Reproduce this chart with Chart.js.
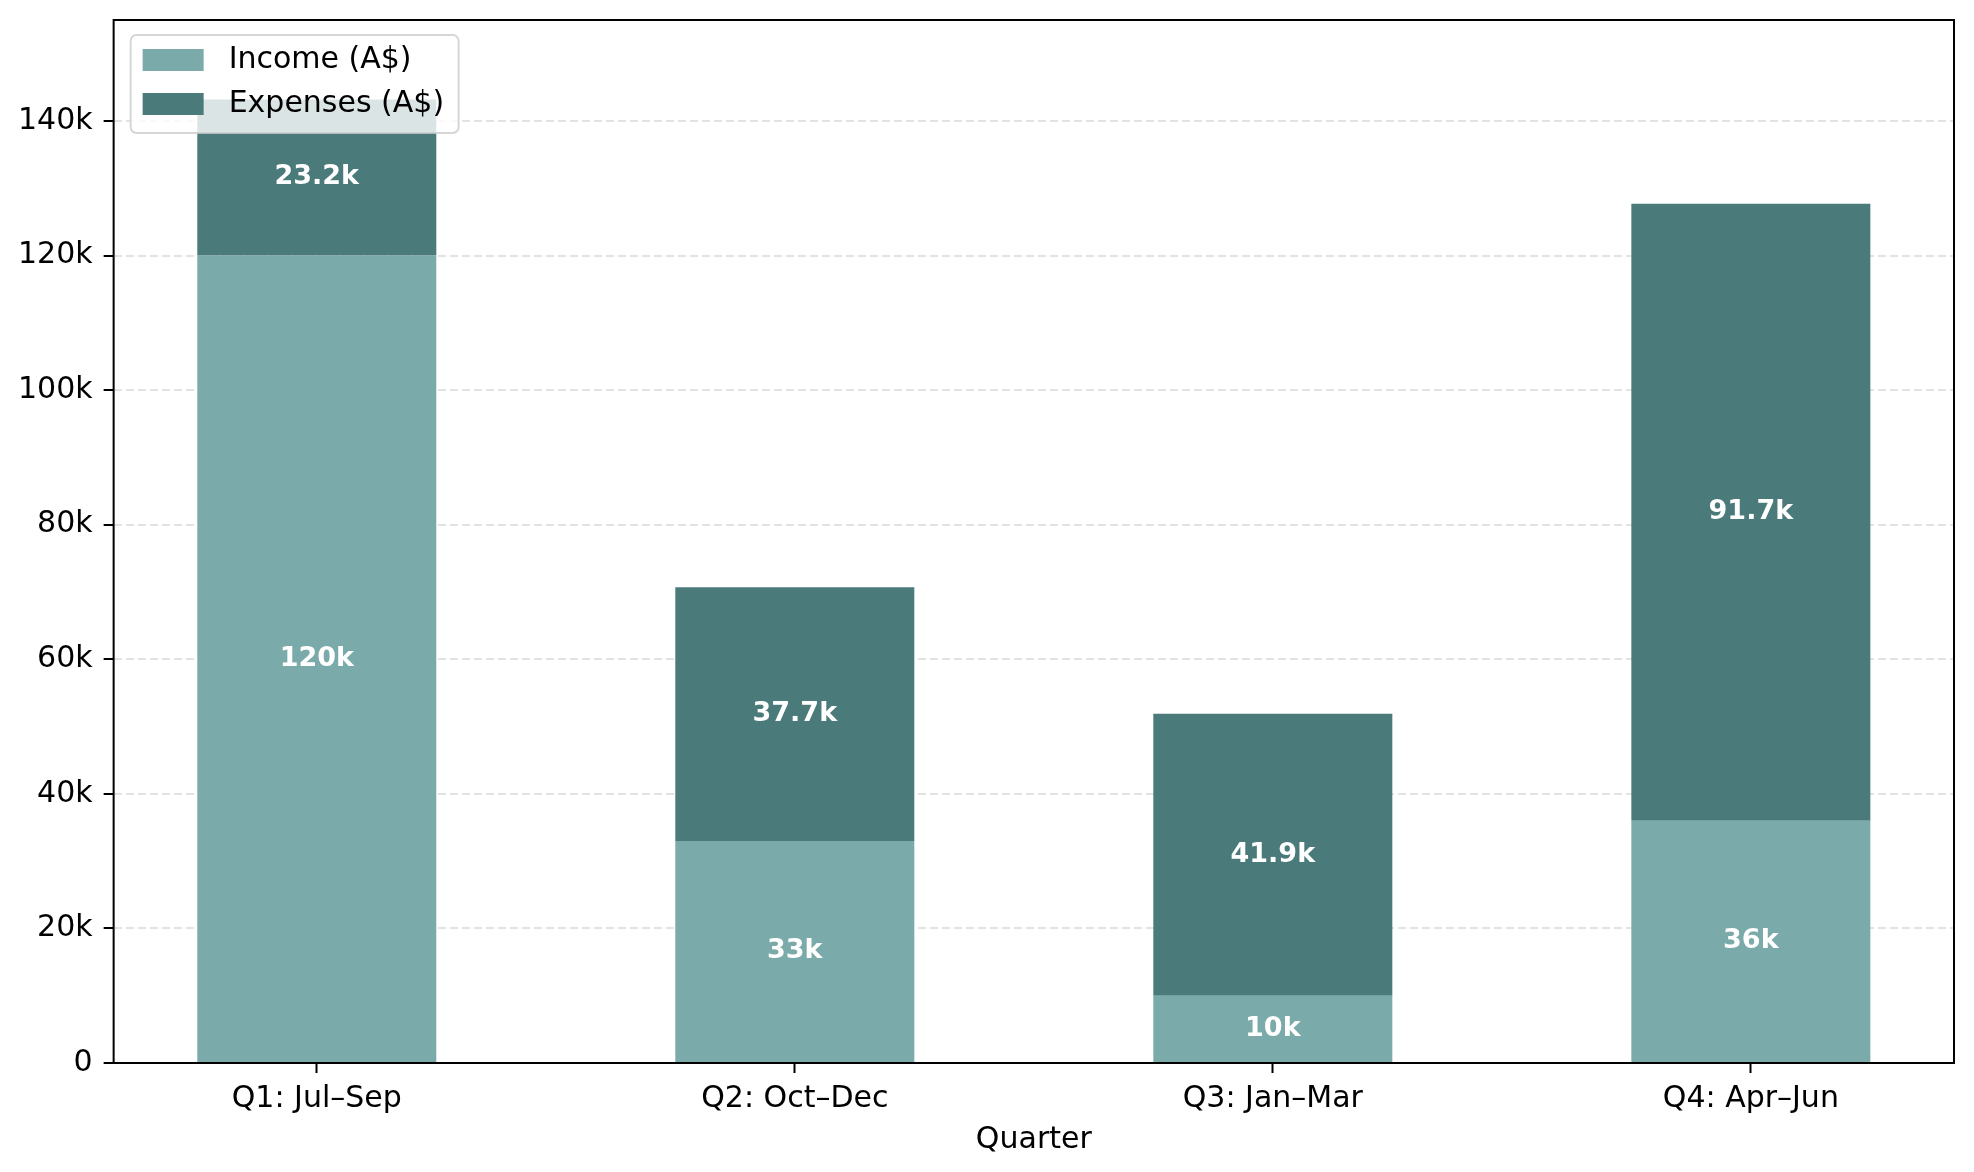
<!DOCTYPE html>
<html lang="en">
<head>
  <meta charset="UTF-8">
  <title>Income vs Expenses by Quarter</title>
  <script src="https://cdn.jsdelivr.net/npm/chart.js@4.4.1/dist/chart.umd.min.js"></script>
  <style>
    html, body { margin: 0; padding: 0; background: #fff; }
    #wrap { width: 1974px; height: 1172px; }
  </style>
</head>
<body>
  <div id="wrap"><canvas id="myChart"></canvas></div>
  <script>
    const quarters = ['Q1: Jul–Sep', 'Q2: Oct–Dec', 'Q3: Jan–Mar', 'Q4: Apr–Jun'];
    const income = [120000, 33000, 10000, 36000];
    const expenses = [23200, 37700, 41900, 91700];
    const yTicks = [0, 20000, 40000, 60000, 80000, 100000, 120000, 140000];
    const seriesNames = ['Income (A$)', 'Expenses (A$)'];
    const seriesColors = ['#7aaaa9', '#4a7a79'];

    const FONT = "'DejaVu Sans', sans-serif";

    function kLabel(v) {
      if (v === 0) return '0';
      return (Math.round(v / 100) / 10) + 'k';
    }

    // value labels in the middle of each stacked segment
    const segmentLabels = {
      id: 'segmentLabels',
      afterDatasetsDraw(chart) {
        const ctx = chart.ctx;
        ctx.save();
        ctx.fillStyle = '#ffffff';
        ctx.font = 'bold 27px ' + FONT;
        ctx.textAlign = 'center';
        ctx.textBaseline = 'middle';
        chart.data.datasets.forEach((ds, i) => {
          chart.getDatasetMeta(i).data.forEach((bar, j) => {
            ctx.fillText(kLabel(ds.data[j].y), bar.x, (bar.y + bar.base) / 2);
          });
        });
        ctx.restore();
      }
    };

    // matplotlib-style legend box inside the axes, drawn over the bars
    const boxLegend = {
      id: 'boxLegend',
      afterDatasetsDraw(chart) {
        const ctx = chart.ctx;
        const a = chart.chartArea;
        const x = a.left + 17, y = a.top + 15, w = 328, h = 98;
        ctx.save();
        ctx.beginPath();
        ctx.roundRect(x, y, w, h, 6);
        ctx.fillStyle = 'rgba(255,255,255,0.8)';
        ctx.fill();
        ctx.lineWidth = 2;
        ctx.strokeStyle = 'rgba(204,204,204,0.8)';
        ctx.stroke();
        ctx.font = '30px ' + FONT;
        ctx.textBaseline = 'middle';
        ctx.textAlign = 'left';
        seriesNames.forEach((name, i) => {
          const cy = y + 25 + i * 44;
          ctx.fillStyle = seriesColors[i];
          ctx.fillRect(x + 12, cy - 11, 61, 22);
          ctx.fillStyle = '#000';
          ctx.fillText(name, x + 98, cy);
        });
        ctx.restore();
      }
    };

    const frame = {
      id: 'frame',
      afterDraw(chart) {
        const a = chart.chartArea;
        const ctx = chart.ctx;
        ctx.save();
        ctx.lineWidth = 2;
        ctx.strokeStyle = '#000';
        ctx.strokeRect(a.left, a.top, a.right - a.left, a.bottom - a.top);
        ctx.restore();
      }
    };

    const toPoints = (arr) => arr.map((v, i) => ({ x: i, y: v }));

    const ctx = document.getElementById('myChart').getContext('2d');
    const myChart = new Chart(ctx, {
      type: 'bar',
      data: {
        datasets: [{
          label: seriesNames[0],
          data: toPoints(income),
          backgroundColor: seriesColors[0],
          barPercentage: 0.5,
          categoryPercentage: 1.0
        }, {
          label: seriesNames[1],
          data: toPoints(expenses),
          backgroundColor: seriesColors[1],
          barPercentage: 0.5,
          categoryPercentage: 1.0
        }]
      },
      options: {
        responsive: true,
        maintainAspectRatio: false,
        animation: false,
        layout: { padding: { left: 7, right: 20, top: 20, bottom: 17 } },
        plugins: {
          legend: { display: false },
          tooltip: { enabled: false }
        },
        scales: {
          x: {
            type: 'linear',
            stacked: true,
            offset: false,
            min: -0.425,
            max: 3.425,
            afterBuildTicks: (s) => { s.ticks = quarters.map((_, i) => ({ value: i })); },
            ticks: {
              callback: (v) => quarters[v],
              font: { family: FONT, size: 30 },
              color: '#000',
              padding: 8,
              maxRotation: 0,
              autoSkip: false
            },
            grid: { offset: false, drawOnChartArea: false, drawTicks: true, tickLength: 10, tickColor: '#000', tickWidth: 2 },
            border: { display: false },
            title: {
              display: true,
              text: 'Quarter',
              font: { family: FONT, size: 30, lineHeight: 1 },
              color: '#000',
              padding: { top: 0, bottom: 0 }
            }
          },
          y: {
            stacked: true,
            min: 0,
            max: 155000,
            afterBuildTicks: (s) => { s.ticks = yTicks.map((v) => ({ value: v })); },
            ticks: {
              callback: (v) => kLabel(v),
              font: { family: FONT, size: 30, lineHeight: 0.6 },
              color: '#000',
              padding: 11
            },
            grid: { color: '#e3e3e3', lineWidth: 2, tickLength: 10, tickColor: '#000', tickWidth: 2 },
            border: { display: false, dash: [8, 4] }
          }
        }
      },
      plugins: [segmentLabels, boxLegend, frame]
    });
  </script>
</body>
</html>
